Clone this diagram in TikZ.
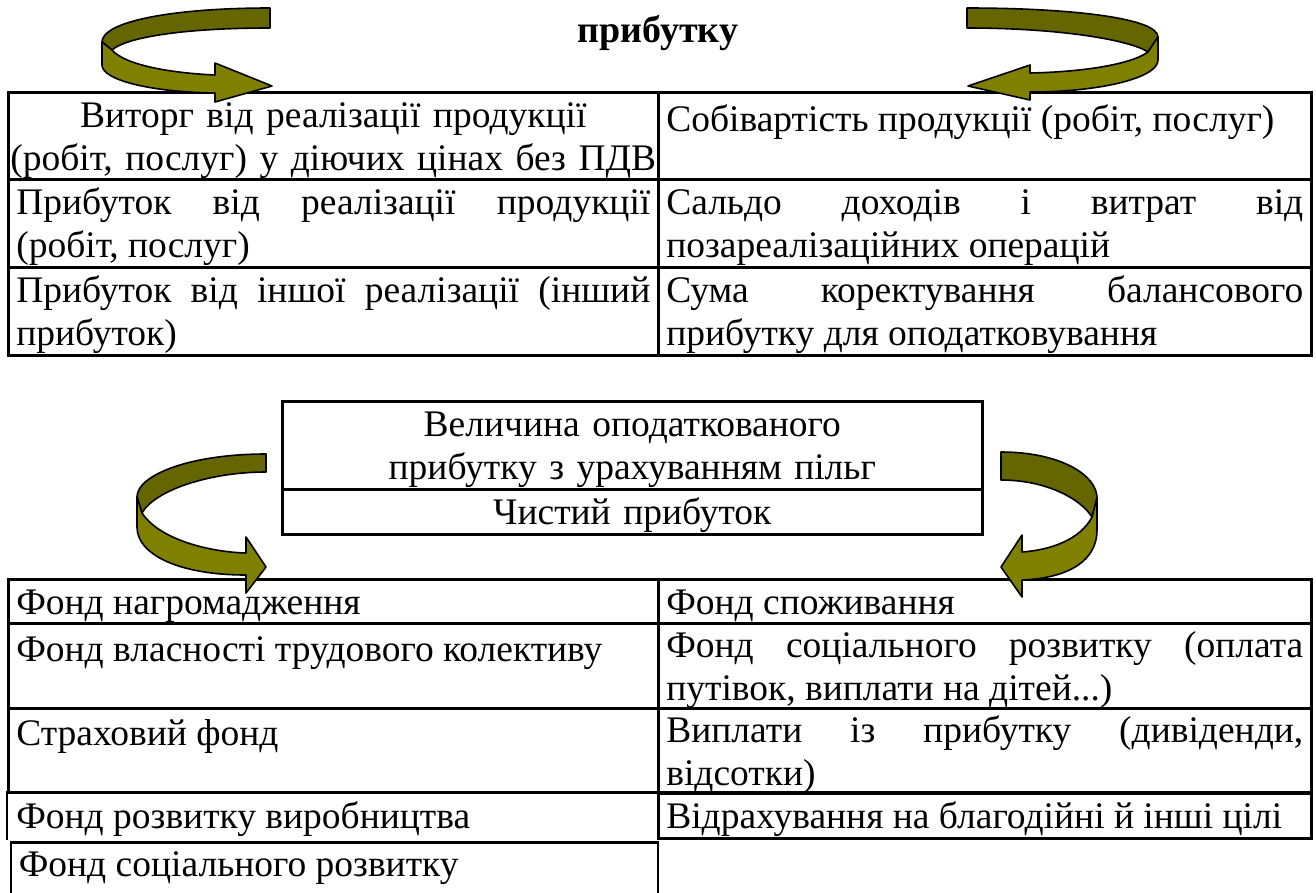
\documentclass[tikz,border=0pt]{standalone}
\usepackage{fontspec}
\setmainfont{Liberation Serif}
\usetikzlibrary{positioning}
\definecolor{olivedark}{HTML}{666600}
\definecolor{olivefront}{HTML}{808000}
\hyphenpenalty=10000
\exhyphenpenalty=10000

\begin{document}
\begin{tikzpicture}[
        x=1pt, y=-1pt,
        cell/.style={rectangle, draw, line width=2.6pt, anchor=north west, inner xsep=8pt, inner ysep=0pt, text width=634pt, text height=34pt, align=justify, font=\fontsize{37.5}{43}\selectfont},
        rcell/.style={cell, text width=637pt},
        back/.style={draw=black, fill=olivedark, line width=1.6pt, line join=round},
        front/.style={draw=black, fill=olivefront, line width=1.6pt, line join=round}
    ]
        \useasboundingbox (0,0) rectangle (1316,892);
        \clip (0,0) rectangle (1316,892);

        % Title
        \node[anchor=base, font=\bfseries\fontsize{38}{43}\selectfont] (title) at (658,42) {прибутку};

        % Upper table
        \node[cell, align=center, inner xsep=2pt, text width=646pt, minimum height=87pt] (sales) at (7,91) {Виторг від реалізації продукції\\(робіт, послуг) у діючих цінах без ПДВ};
        \node[rcell, minimum height=87pt] (cost) at (657,91) {Собівартість продукції (робіт, послуг)\\\mbox{}};
        \node[cell, minimum height=88pt] (salesprofit) at (7,178) {Прибуток від реалізації продукції\linebreak (робіт, послуг)};
        \node[rcell, minimum height=88pt] (saldo) at (657,178) {Сальдо доходів і витрат від\linebreak позареалізаційних операцій};
        \node[cell, minimum height=88pt] (otherprofit) at (7,266) {Прибуток від іншої реалізації (інший\linebreak прибуток)};
        \node[rcell, minimum height=88pt] (correction) at (657,266) {Сума коректування балансового\linebreak прибутку для оподатковування};

        % Middle box
        \node[cell, align=center, text width=684pt, minimum height=88pt] (taxed) at (281,400) {Величина оподаткованого\\прибутку з урахуванням пільг};
        \node[cell, align=center, text width=684pt, minimum height=45pt] (net) at (281,488) {Чистий прибуток};

        % Lower table
        \node[cell, minimum height=44pt] (accum) at (7,578) {Фонд нагромадження};
        \node[rcell, minimum height=44pt] (consum) at (657,578) {Фонд споживання};
        \node[cell, minimum height=85pt] (property) at (7,622) {Фонд власності трудового колективу\\\mbox{}};
        \node[rcell, minimum height=85pt] (social) at (657,622) {Фонд соціального розвитку (оплата\linebreak путівок, виплати на дітей...)};
        \node[cell, minimum height=84pt] (insurance) at (7,707) {Страховий фонд\\\mbox{}};
        \node[rcell, minimum height=84pt] (dividends) at (657,707) {Виплати із прибутку (дивіденди,\linebreak відсотки)};
        \node[cell, draw=none, minimum height=46pt] (production) at (7,791) {Фонд розвитку виробництва};
        \node[rcell, minimum height=46pt] (charity) at (657,791) {Відрахування на благодійні й інші цілі};
        \node[cell, text width=631pt, minimum height=70pt] (socialdev) at (9.5,841) {Фонд соціального розвитку\\\mbox{}};
        \draw[line width=2.6pt] (production.north west) -- (production.south west);

        % Curved arrows
        \draw[back] (270,8) .. controls (170,8) and (102,22) .. (102,42) -- (112,50) .. controls (125,38) and (180,28) .. (270,28) -- cycle;
        \draw[front] (112,50) .. controls (125,65) and (170,73) .. (215,75) -- (215,63) -- (272,86) -- (215,102) -- (215,93) .. controls (150,92) and (102,80) .. (102,65) -- (102,42) -- cycle;

        \draw[back] (967,8) .. controls (1070,8) and (1158,18) .. (1158,37) -- (1148,52) .. controls (1130,40) and (1060,28) .. (967,28) -- cycle;
        \draw[front] (1148,52) .. controls (1130,65) and (1080,72) .. (1030,73) -- (1030,65) -- (968,86) -- (1030,100) -- (1030,92) .. controls (1100,92) and (1158,78) .. (1158,60) -- (1158,37) -- cycle;

        \draw[back] (266,454) .. controls (190,454) and (137,475) .. (137,497) -- (142,513) .. controls (155,490) and (210,472) .. (266,472) -- cycle;
        \draw[front] (142,513) .. controls (160,540) and (210,552) .. (246,553) -- (246,537) -- (266,567) -- (246,593) -- (246,575) .. controls (180,575) and (137,555) .. (137,527) -- (137,497) -- cycle;

        \draw[back] (1001,452) .. controls (1060,452) and (1097,475) .. (1097,498) -- (1092,517) .. controls (1080,498) and (1045,480) .. (1001,480) -- cycle;
        \draw[front] (1092,517) .. controls (1080,540) and (1050,550) .. (1022,552) -- (1022,535) -- (1001,567) -- (1022,597) -- (1022,580) .. controls (1070,578) and (1097,560) .. (1097,530) -- (1097,498) -- cycle;
    \end{tikzpicture}
\end{document}
